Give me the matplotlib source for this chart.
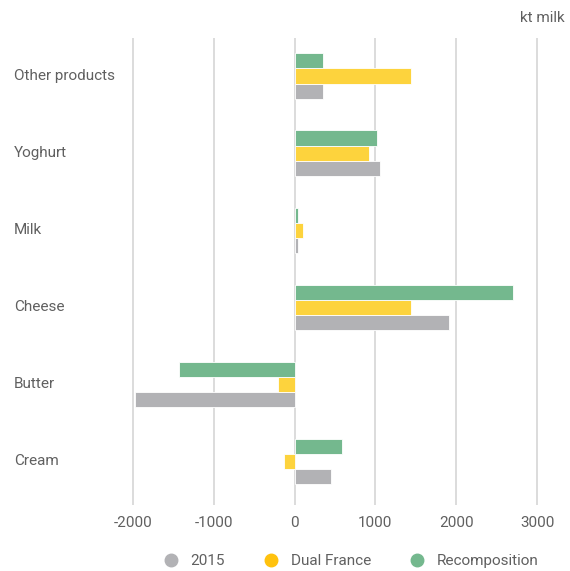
import numpy as np
import matplotlib
matplotlib.use("Agg")
import matplotlib.pyplot as plt
from matplotlib.lines import Line2D

plt.rcParams['font.family'] = ['Roboto', 'DejaVu Sans']

# categories bottom to top
categories = ["Cream", "Butter", "Cheese", "Milk", "Yoghurt", "Other products"]
series = ["2015", "Dual France", "Recomposition"]
v2015 = [450, -1975, 1915, 40, 1060, 350]
dual_france = [-130, -200, 1440, 105, 920, 1435]
recomposition = [585, -1430, 2700, 40, 1025, 350]
xticks = [-2000, -1000, 0, 1000, 2000, 3000]

bar_colors = ["#b2b2b5", "#fdd33d", "#74b88e"]
legend_colors = ["#b2b2b5", "#ffc20e", "#74b88e"]
text_color = "#606060"
fs = 11

fig = plt.figure(figsize=(5.70, 5.71), dpi=100)
W, H = 570, 571
left_px, right_px = 124.9, 545.1
top_px, bot_px = 37.5, 505
ax = fig.add_axes([left_px / W, 1 - bot_px / H, (right_px - left_px) / W, (bot_px - top_px) / H])

y = np.arange(len(categories))
h = 0.195
offsets = [-h, 0, h]
for vals, off, c in zip([v2015, dual_france, recomposition], offsets, bar_colors):
    ax.barh(y + off, vals, height=h, color=c, edgecolor="white", linewidth=0.6, zorder=3)

ax.set_xlim(-2100, 3100)
ax.set_ylim(-0.57, 5.5)
ax.set_xticks(xticks)
ax.set_xticklabels([str(t) for t in xticks], color=text_color, fontsize=fs)
ax.tick_params(axis='x', length=0, pad=8)
ax.set_yticks([])
ax.grid(axis='x', color="#dcdcdc", linewidth=1.4, zorder=0)
for s in ax.spines.values():
    s.set_visible(False)

for yi, name in zip(y, categories):
    fig.text(14 / W, 1 - (461 - yi * 77) / H, name, ha='left', va='center',
             fontsize=fs, color=text_color)

fig.text(565 / W, 1 - 18 / H, "kt milk", ha='right', va='center', fontsize=fs, color=text_color)

handles = [Line2D([], [], marker='o', linestyle='none', markersize=9,
                  markerfacecolor=c, markeredgecolor=c) for c in legend_colors]
leg = fig.legend(handles, series, loc='center', bbox_to_anchor=(347 / W, 1 - 561 / H),
                 ncol=3, frameon=False, fontsize=fs, handletextpad=0.3, columnspacing=2.0)
for t in leg.get_texts():
    t.set_color(text_color)

fig.savefig("out.png", dpi=100)
